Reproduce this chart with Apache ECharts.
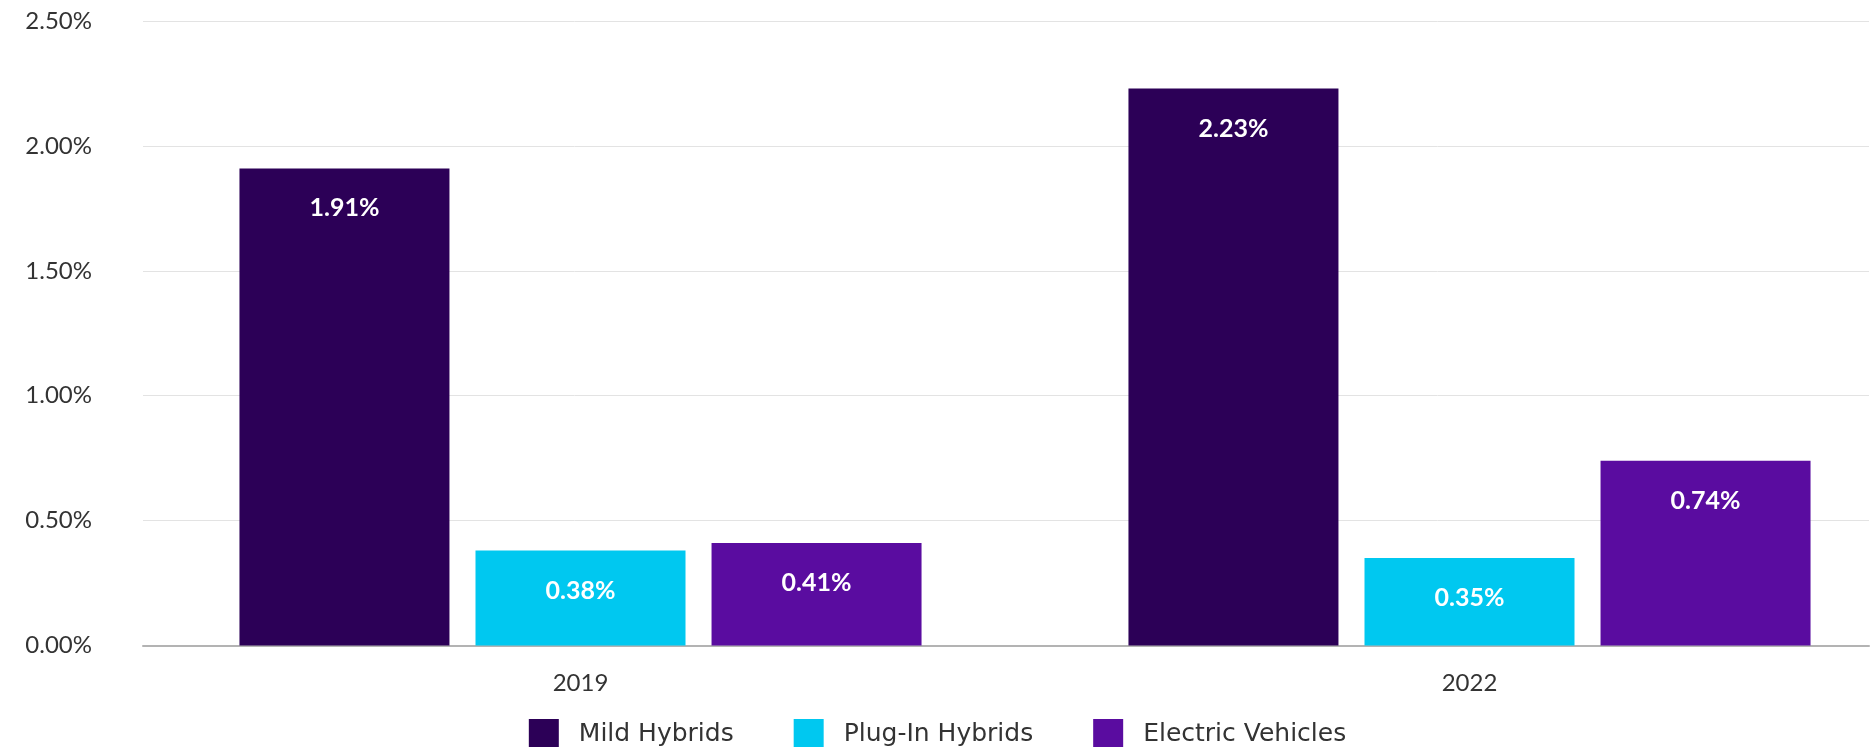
<!DOCTYPE html>
<html>
<head>
<meta charset="utf-8">
<script src="https://cdn.jsdelivr.net/npm/echarts@6/dist/echarts.min.js"></script>
<style>
html,body{margin:0;padding:0;background:#fff;}
#chart{width:1875px;height:747px;}
</style>
</head>
<body>
<div id="chart"></div>
<script>
const categories = ['2019', '2022'];
const seriesNames = ['Mild Hybrids', 'Plug-In Hybrids', 'Electric Vehicles'];
const mildHybrids = [1.91, 2.23];
const plugInHybrids = [0.38, 0.35];
const electricVehicles = [0.41, 0.74];
const yTicks = [0, 0.5, 1, 1.5, 2, 2.5];
const colors = ['#2c0057', '#00c8f0', '#5a0ca0'];

const FONT = 'Lato, "Open Sans", sans-serif';
const LEGEND_FONT = '"DejaVu Sans", "Open Sans", sans-serif';
const chart = echarts.init(document.getElementById('chart'), null, {renderer: 'canvas'});

const seriesData = [mildHybrids, plugInHybrids, electricVehicles];
const series = seriesNames.map((name, i) => ({
  name: name,
  type: 'bar',
  xAxisIndex: 1,
  yAxisIndex: 1,
  data: seriesData[i],
  barWidth: 210,
  barGap: '12.4%',
  clip: false,
  itemStyle: {color: colors[i]},
  label: {
    show: true,
    position: 'insideTop',
    distance: 27,
    color: '#ffffff',
    fontFamily: FONT,
    fontWeight: 'bold',
    fontSize: 25,
    lineHeight: 26,
    formatter: p => p.value.toFixed(2) + '%'
  }
}));

chart.setOption({
  animation: false,
  backgroundColor: '#ffffff',
  textStyle: {fontFamily: FONT},
  grid: [
    {left: 143, top: 21, width: 1726, height: 624.5},
    {left: 580.5, top: 21, width: 889, height: 624.5}
  ],
  legend: {
    data: seriesNames,
    top: 714,
    left: 'center',
    itemWidth: 30,
    itemHeight: 30,
    itemGap: 60,
    icon: 'rect',
    textStyle: {color: '#333333', fontSize: 25, fontFamily: LEGEND_FONT, padding: [0, 0, 0, 15]}
  },
  xAxis: [
    {
      gridIndex: 0,
      type: 'category',
      data: categories,
      axisLine: {show: true, lineStyle: {color: '#b3b3b3', width: 2}},
      axisTick: {show: false},
      axisLabel: {show: false},
      splitLine: {show: false}
    },
    {
      gridIndex: 1,
      type: 'category',
      data: categories,
      boundaryGap: false,
      axisLine: {show: false},
      axisTick: {show: false},
      axisLabel: {show: true, color: '#333333', fontSize: 24, fontFamily: FONT, margin: 26},
      splitLine: {show: false}
    }
  ],
  yAxis: [
    {
      gridIndex: 0,
      type: 'value',
      min: yTicks[0],
      max: yTicks[yTicks.length - 1],
      interval: 0.5,
      axisLine: {show: false},
      axisTick: {show: false},
      axisLabel: {color: '#333333', fontSize: 24, fontFamily: FONT, margin: 51,
        formatter: v => v.toFixed(2) + '%'},
      splitLine: {show: true, lineStyle: {color: '#e3e3e3', width: 1}}
    },
    {
      gridIndex: 1,
      type: 'value',
      min: yTicks[0],
      max: yTicks[yTicks.length - 1],
      interval: 0.5,
      show: false,
      splitLine: {show: false}
    }
  ],
  series: series
});
</script>
</body>
</html>
